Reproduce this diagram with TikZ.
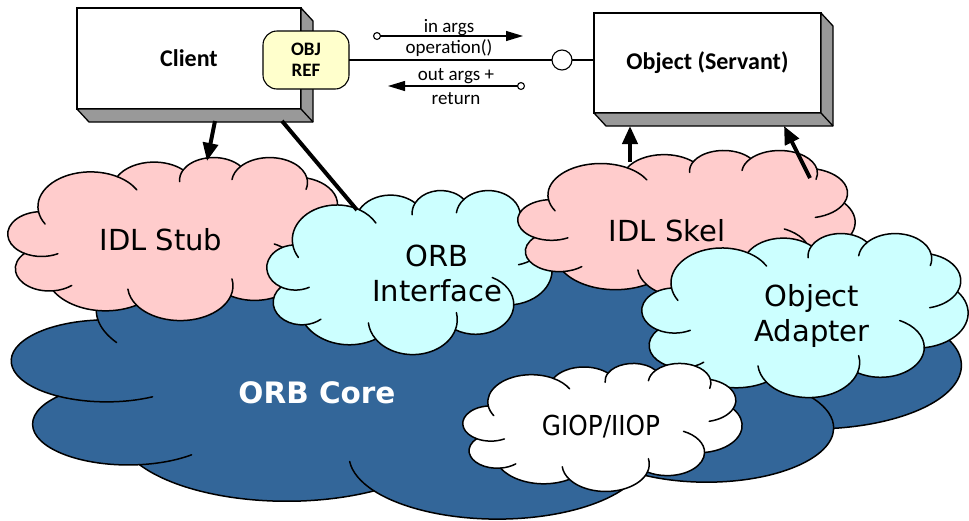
\documentclass[tikz,border=0pt]{standalone}
\usepackage{fontspec}
\setmainfont{Carlito}
\newfontfamily\cloudfont{DejaVu Sans}
\newfontfamily\narrowcloudfont[FakeStretch=0.9]{DejaVu Sans}
\usetikzlibrary{arrows.meta}

\definecolor{stubpink}{HTML}{FFCCCC}
\definecolor{ifcyan}{HTML}{CCFFFF}
\definecolor{coreblue}{HTML}{336699}
\definecolor{refyellow}{HTML}{FFFFCC}
\definecolor{sidegrey}{HTML}{999999}

% One elliptic arc of a cloud, given by its radii and by the geometric
% start angle and signed sweep (y axis pointing down).  The angles are
% turned into the parametric angles that TikZ's arc expects.
\newcommand\defcloudarc[5]{%
  \pgfmathsetmacro\cldS{atan2((#2)*sin(#4),(#3)*cos(#4))}%
  \pgfmathsetmacro\cldE{atan2((#2)*sin((#4)+(#5)),(#3)*cos((#4)+(#5)))}%
  \pgfmathsetmacro\cldD{\cldE-\cldS}%
  \pgfmathsetmacro\cldD{ifthenelse((#5)>0,ifthenelse(\cldD<0,\cldD+360,\cldD),ifthenelse(\cldD>0,\cldD-360,\cldD))}%
  \expandafter\xdef\csname cloudarc#1\endcsname{arc[x radius=#2,y radius=#3,start angle=\cldS,delta angle=\cldD]}%
}
% outline lobes (cloud drawn in a 100 x 100 box)
\defcloudarc{A}{15.632}{21.273}{-190.4875}{123.7805}
\defcloudarc{B}{12.345}{16.822}{-144.1024}{89.9452}
\defcloudarc{C}{10.104}{13.762}{-145.8079}{99.7230}
\defcloudarc{D}{11.243}{15.266}{-130.9861}{117.2417}
\defcloudarc{E}{12.345}{16.836}{-78.7089}{109.0269}
\defcloudarc{F}{15.683}{21.343}{-46.2673}{130.2690}
\defcloudarc{G}{13.391}{18.211}{0.6250}{114.0333}
\defcloudarc{H}{15.630}{21.331}{22.4516}{115.1726}
\defcloudarc{I}{17.870}{24.405}{66.2426}{75.7110}
\defcloudarc{J}{10.093}{13.699}{-274.9421}{146.7356}
\defcloudarc{K}{10.058}{13.762}{-246.8285}{152.5189}
% inner strokes: a lobe's edge carried on past the notch into its neighbour
\defcloudarc{L}{10.058}{13.762}{113.1715}{-45}
\defcloudarc{M}{10.093}{13.699}{85.0579}{-28}
\defcloudarc{N}{15.630}{21.331}{137.6242}{35}
\defcloudarc{O}{15.630}{21.331}{22.4516}{-38}
\defcloudarc{P}{13.391}{18.211}{0.6250}{-71}
\defcloudarc{Q}{12.345}{16.836}{30.3180}{50}
\defcloudarc{R}{11.243}{15.266}{-13.7444}{35}
\defcloudarc{S}{11.243}{15.266}{-130.9861}{-40}
\defcloudarc{T}{10.104}{13.762}{-145.8079}{-40}
\defcloudarc{U}{15.632}{21.273}{-66.7070}{30}
\defcloudarc{V}{15.632}{21.273}{-190.4875}{-28}

% outline, naming the notches between neighbouring lobes
\newcommand\cloudoutline{(9.028,33.264) coordinate (cjka) \cloudarcA coordinate (cjab)
  \cloudarcB coordinate (cjbc) \cloudarcC coordinate (cjcd) \cloudarcD coordinate (cjde)
  \cloudarcE coordinate (cjef) \cloudarcF coordinate (cjfg) \cloudarcG coordinate (cjgh)
  \cloudarcH coordinate (cjhi) \cloudarcI coordinate (cjij) \cloudarcJ coordinate (cjjk)
  \cloudarcK -- cycle}

% \pptcloud{fill}{left}{top}{right}{bottom}
\newcommand\pptcloud[5]{%
  \pgfmathsetmacro\cloudW{(#4-#2)/100}%
  \pgfmathsetmacro\cloudH{(#5-#3)/100}%
  \begin{scope}[shift={(#2,#3)}, x=\cloudW pt, y=-\cloudH pt]
    \path[cloud edge, fill=#1] \cloudoutline;
    \draw[inner edge] (cjjk) \cloudarcL;
    \draw[inner edge] (cjij) \cloudarcM;
    \draw[inner edge] (cjhi) \cloudarcN;
    \draw[inner edge] (cjgh) \cloudarcO;
    \draw[inner edge] (cjfg) \cloudarcP;
    \draw[inner edge] (cjef) \cloudarcQ;
    \draw[inner edge] (cjde) \cloudarcR;
    \draw[inner edge] (cjcd) \cloudarcS;
    \draw[inner edge] (cjbc) \cloudarcT;
    \draw[inner edge] (cjab) \cloudarcU;
    \draw[inner edge] (cjka) \cloudarcV;
  \end{scope}}

% side and bottom faces of a raised box
\newcommand\boxdepth[1]{%
  \filldraw[box side] (#1.north east) -- ([shift={(12,13)}]#1.north east)
    -- ([shift={(12,13)}]#1.south east) -- ([shift={(12,13)}]#1.south west)
    -- (#1.south west) -- (#1.south east) -- cycle;
  \draw[box side] (#1.south east) -- ([shift={(12,13)}]#1.south east);}

\begin{document}
\begin{tikzpicture}[x=1pt, y=-1pt,
  cloud edge/.style={draw=black, line width=1.5pt, line join=round},
  inner edge/.style={draw=black, line width=1.5pt, line cap=round},
  cloud label/.style={font=\cloudfont\fontsize{29}{35}\selectfont, align=center, inner sep=0pt},
  box face/.style={draw=black, fill=white, line width=1.3pt, outer sep=0pt,
    font=\bfseries\fontsize{24}{29}\selectfont},
  box side/.style={fill=sidegrey, draw=black, line width=1.3pt, line join=round},
  ref box/.style={draw=black, fill=refyellow, line width=1.1pt, rounded corners=14pt,
    minimum width=86pt, minimum height=58pt, align=center, inner sep=0pt, outer sep=0pt,
    font=\bfseries\fontsize{19}{21}\selectfont},
  call label/.style={font=\fontsize{19}{22}\selectfont, inner sep=0pt, anchor=base},
  thin line/.style={draw=black, line width=1.1pt},
  call arrow/.style={thin line, {Circle[open,length=8pt,width=8pt,line width=1.1pt]}-{Triangle[length=17pt,width=10pt]}},
  thick arrow/.style={draw=black, line width=4pt, -{Triangle[length=18pt,width=15pt]}},
  thick line/.style={draw=black, line width=4pt}]

\useasboundingbox (0,0) rectangle (969,520);
\clip (0,0) rectangle (969,520);

% clouds, from the back to the front
\pptcloud{coreblue}{12}{220}{961}{518}
\pptcloud{stubpink}{8}{157}{345}{320}
\pptcloud{ifcyan}{267}{190}{552}{354}
\pptcloud{stubpink}{518}{150}{855}{298}
\pptcloud{ifcyan}{642}{233}{968}{397}
\pptcloud{white}{463}{363}{742}{491}

% cloud labels
\node[cloud label, anchor=base] (stub) at (161,250) {IDL Stub};
\node[cloud label] (orbif) at (437,273) {ORB\\Interface};
\node[cloud label, anchor=base] (skel) at (667,241) {IDL Skel};
\node[cloud label] (adapter) at (812,316) {Object\\Adapter};
\node[inner sep=0pt, anchor=base, text=white, font=\cloudfont\bfseries\fontsize{29.5}{35}\selectfont] (core) at (317,403) {ORB Core};
\node[inner sep=0pt, anchor=base, font=\narrowcloudfont\fontsize{27.5}{33}\selectfont] (giop) at (601,435) {GIOP/IIOP};

% client and servant boxes
\node[box face, minimum width=224pt, minimum height=101pt] (client) at (189,58.5) {Client};
\boxdepth{client}
\node[box face, minimum width=227pt, minimum height=100pt] (servant) at (707.5,63) {Object (Servant)};
\boxdepth{servant}

% object reference and the invocation line
\node[ref box] (objref) at (306,60) {OBJ\\REF};
\node[circle, draw=black, fill=white, line width=1.1pt, minimum size=20pt, inner sep=0pt, outer sep=0pt] (sock) at (562,60) {};
\draw[thin line] (objref.east) -- (sock.west);
\draw[thin line] (sock.east) -- (sock.east -| servant.west);

% request and reply
\coordinate (reqtail) at (373,36);
\coordinate (reqhead) at (523,36);
\coordinate (reptail) at (525,86);
\coordinate (rephead) at (388,86);
\draw[call arrow] (reqtail) -- (reqhead);
\draw[call arrow] (reptail) -- (rephead);
\node[call label] (inargs) at (449,32) {in args};
\node[call label] (opname) at (449,53) {operation()};
\node[call label] (outargs) at (456,80) {out args +};
\node[call label] (retval) at (456,104) {return};

% links between the boxes and the clouds
\coordinate (clientfoot) at (215,121);
\coordinate (stubtop) at (207,161);
\coordinate (clientfoot2) at (282,121);
\coordinate (orbiftop) at (357,210);
\coordinate (skeltop) at (630,162);
\coordinate (servantfoot) at (630,126);
\coordinate (skelright) at (810,178);
\coordinate (servantfoot2) at (784,126);
\draw[thick arrow] (clientfoot) -- (stubtop);
\draw[thick line] (clientfoot2) -- (orbiftop);
\draw[thick arrow] (skeltop) -- (servantfoot);
\draw[thick arrow] (skelright) -- (servantfoot2);
\end{tikzpicture}
\end{document}
